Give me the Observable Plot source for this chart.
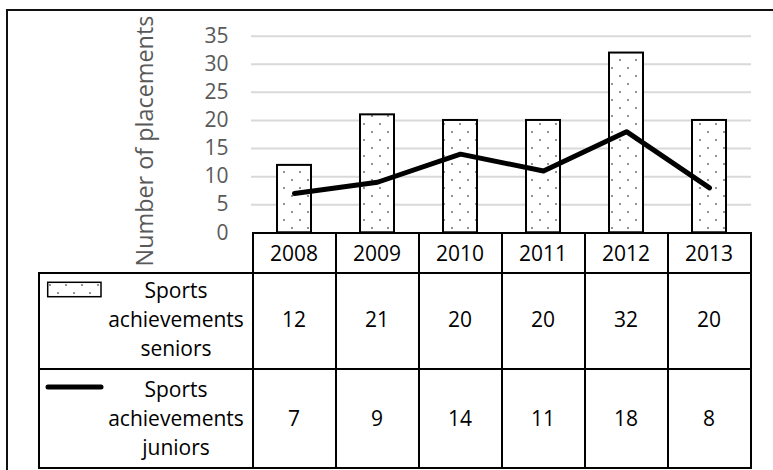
<!DOCTYPE html>
<html><head><meta charset="utf-8">
<script src="https://cdn.jsdelivr.net/npm/d3@7"></script>
<script src="https://cdn.jsdelivr.net/npm/@observablehq/plot@0.6"></script>
<style>
body{margin:0;background:#fff}
#wrap{position:relative;width:773px;height:470px;overflow:hidden;background:#fff;font-family:"Open Sans",sans-serif}
#frame{position:absolute;left:6px;top:9px;width:900px;height:600px;border-left:2px solid #111;border-top:2px solid #111}
.ln{position:absolute;background:#000}
.cell{position:absolute;display:flex;flex-direction:column;align-items:center;justify-content:center;font-size:21px;line-height:29px;color:#000;white-space:nowrap}
.key{position:absolute}
</style></head><body>
<div id="wrap"><div id="frame"></div></div>
<script>
const years = ["2008", "2009", "2010", "2011", "2012", "2013"];
const seniors = [12, 21, 20, 20, 32, 20];
const juniors = [7, 9, 14, 11, 18, 8];
const yTicks = [0, 5, 10, 15, 20, 25, 30, 35];
const seniorsName = ["Sports", "achievements", "seniors"];
const juniorsName = ["Sports", "achievements", "juniors"];
const yLabel = "Number of placements";

const data = years.map((year, i) => ({year, seniors: seniors[i], juniors: juniors[i]}));

const W = 773, H = 470;
const plotLeft = 251, plotRight = 751, plotTop = 35.7, plotBase = 232.3;

const chart = Plot.plot({
  width: W, height: H,
  marginLeft: plotLeft, marginRight: W - plotRight, marginTop: plotTop, marginBottom: H - plotBase,
  style: {fontFamily: '"Open Sans", sans-serif', fontSize: "21px", background: "transparent", overflow: "visible"},
  x: {domain: years, paddingInner: 0.592, paddingOuter: 0.296, axis: null},
  y: {domain: [0, 35]},
  marks: [
    Plot.gridY(yTicks.slice(1), {stroke: "#d9d9d9", strokeOpacity: 1, strokeWidth: 2}),
    Plot.axisY(yTicks, {tickSize: 0, tickPadding: 23, label: null, color: "#595959", fontSize: 21}),
    Plot.barY(data, {x: "year", y: "seniors", fill: "url(#dots)", stroke: "#000", strokeWidth: 2}),
    Plot.line(data, {x: "year", y: "juniors", stroke: "#000", strokeWidth: 5, strokeLinecap: "round", strokeLinejoin: "round"}),
    Plot.text([yLabel], {text: d => d, frameAnchor: "left", textAnchor: "middle", lineAnchor: "middle", rotate: -90, dx: -106.5, dy: 6.5, fontSize: 23.4, fill: "#595959"})
  ]
});

const wrap = document.getElementById("wrap");
const svg = chart.tagName.toLowerCase() === "svg" ? chart : chart.querySelector("svg");
chart.style.position = "absolute"; chart.style.left = "0px"; chart.style.top = "0px";
const ns = "http://www.w3.org/2000/svg";
function el(tag, attrs, parent) {
  const e = document.createElementNS(ns, tag);
  for (const k in attrs) e.setAttribute(k, attrs[k]);
  if (parent) parent.appendChild(e);
  return e;
}
function addPattern(target, id) {
  const defs = el("defs", {});
  const p = el("pattern", {id, patternUnits: "userSpaceOnUse", width: 16, height: 16}, defs);
  el("rect", {width: 16, height: 16, fill: "#fff"}, p);
  el("circle", {cx: 4, cy: 4, r: 1.1, fill: "#7a7a7a"}, p);
  el("circle", {cx: 12, cy: 12, r: 1.1, fill: "#7a7a7a"}, p);
  target.insertBefore(defs, target.firstChild);
}
addPattern(svg, "dots");
wrap.appendChild(chart);

// data table below the plot, aligned on Plot's x scale
const xs = chart.scale("x");
const step = xs.step, bw = xs.bandwidth;
const centers = years.map(y => xs.apply(y) + bw / 2);
const bounds = [centers[0] - step / 2, ...centers.map(c => c + step / 2)];
const tLeft = 39.3, rowY = [233.3, 273.3, 369.3, 468];

function div(cls, css, html) {
  const d = document.createElement("div");
  d.className = cls;
  Object.assign(d.style, css);
  if (html != null) d.innerHTML = html;
  wrap.appendChild(d);
  return d;
}
function hline(y, x1, x2) { div("ln", {left: (x1 - 1) + "px", top: (y - 1) + "px", width: (x2 - x1 + 2) + "px", height: "2px"}); }
function vline(x, y1, y2) { div("ln", {left: (x - 1) + "px", top: (y1 - 1) + "px", width: "2px", height: (y2 - y1 + 2) + "px"}); }

hline(rowY[0], bounds[0], bounds[6]);
hline(rowY[1], tLeft, bounds[6]);
hline(rowY[2], tLeft, bounds[6]);
hline(rowY[3], tLeft, bounds[6]);
vline(tLeft, rowY[1], rowY[3]);
bounds.forEach(b => vline(b, rowY[0], rowY[3]));

function cell(x1, x2, y1, y2, lines, dy = 0) {
  div("cell", {left: x1 + "px", width: (x2 - x1) + "px", top: (y1 + dy) + "px", height: (y2 - y1) + "px"},
    lines.map(t => `<span>${t}</span>`).join(""));
}
years.forEach((yr, i) => {
  cell(bounds[i], bounds[i + 1], rowY[0], rowY[1], [yr]);
  cell(bounds[i], bounds[i + 1], rowY[1], rowY[2], [String(seniors[i])], -1.5);
  cell(bounds[i], bounds[i + 1], rowY[2], rowY[3], [String(juniors[i])]);
});
cell(101, 251, rowY[1], rowY[2], seniorsName, -1.5);
cell(101, 251, rowY[2], rowY[3], juniorsName);

// legend keys
const k1 = el("svg", {width: 58, height: 20});
k1.setAttribute("class", "key");
k1.style.left = "46px"; k1.style.top = "281px";
addPattern(k1, "dots2");
el("rect", {x: 1.7, y: 1.3, width: 53.3, height: 14.4, fill: "url(#dots2)", stroke: "#000", "stroke-width": 1.5}, k1);
wrap.appendChild(k1);
const k2 = el("svg", {width: 62, height: 12});
k2.setAttribute("class", "key");
k2.style.left = "44px"; k2.style.top = "381.3px";
el("line", {x1: 4, x2: 57, y1: 6, y2: 6, stroke: "#000", "stroke-width": 5, "stroke-linecap": "round"}, k2);
wrap.appendChild(k2);
</script>
</body></html>
